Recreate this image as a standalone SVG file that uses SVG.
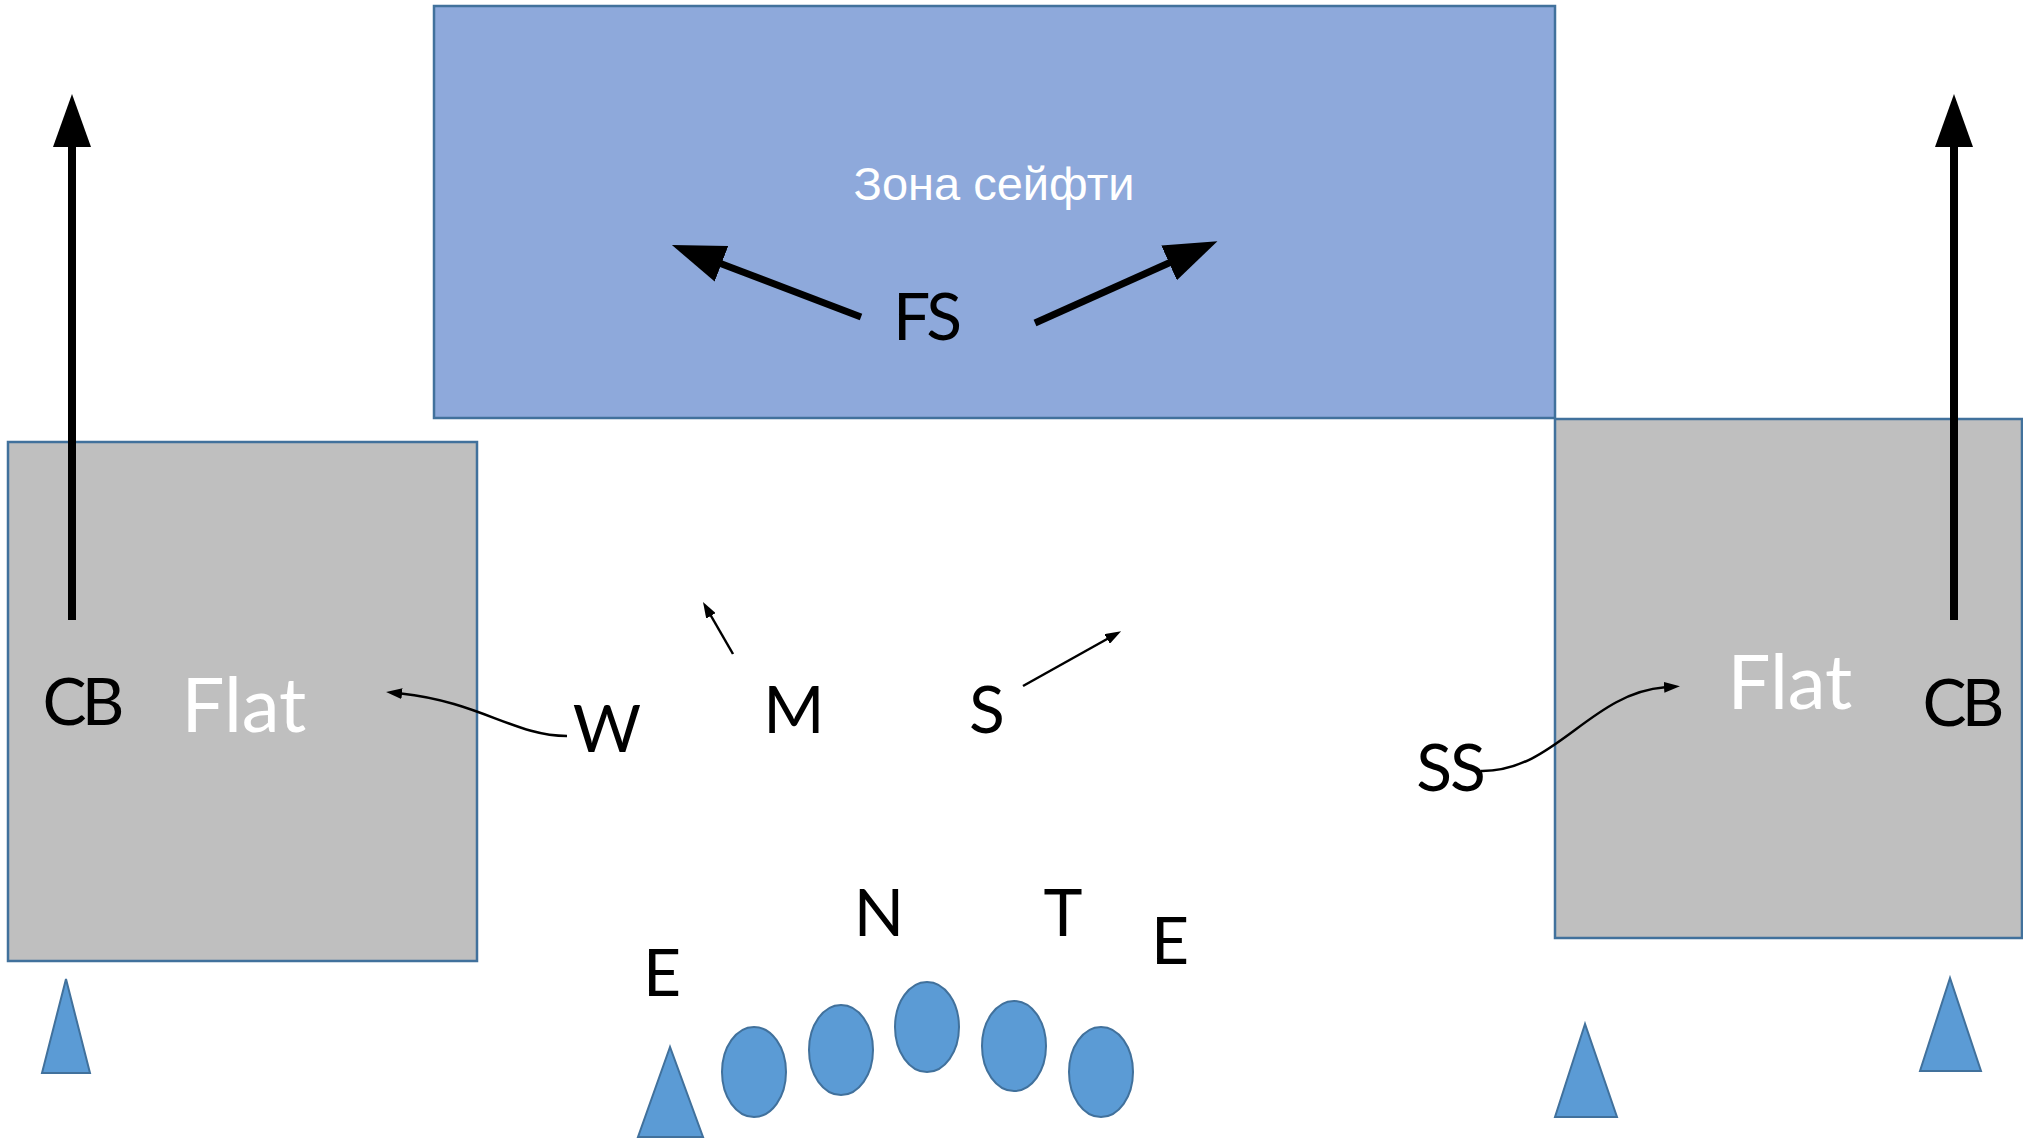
<svg xmlns="http://www.w3.org/2000/svg" width="2023" height="1138" viewBox="0 0 2023 1138">
<style>
.zone-blue{fill:#8EA9DB;stroke:#41719C;stroke-width:2.5}
.zone-gray{fill:#BFBFBF;stroke:#41719C;stroke-width:2.5}
.pl{fill:#5B9BD5;stroke:#41719C;stroke-width:2}
.lbl{font-family:Lato,"Open Sans","Noto Sans",sans-serif;font-size:66px;fill:#000;text-anchor:middle}
.flat{font-family:Lato,"Open Sans","Noto Sans",sans-serif;font-size:76px;fill:#fff;text-anchor:middle}
.zt{font-family:"Liberation Sans",Arial,sans-serif;font-size:47px;fill:#fff;text-anchor:middle}
.tight{letter-spacing:-5px}
.big{fill:none;stroke:#000;stroke-width:8}
.med{fill:none;stroke:#000;stroke-width:7}
.thin{fill:none;stroke:#000;stroke-width:2.5}
</style>
<defs>
<marker id="bigHead" markerUnits="userSpaceOnUse" markerWidth="53" markerHeight="38" viewBox="0 0 53 38" refX="1" refY="19" orient="auto">
<path d="M0,0 L53,19 L0,38 z" fill="#000"/>
</marker>
<marker id="smallHead" markerUnits="userSpaceOnUse" markerWidth="16" markerHeight="11" viewBox="0 0 16 11" refX="1" refY="5.5" orient="auto">
<path d="M0,0 L16,5.5 L0,11 z" fill="#000"/>
</marker>
</defs>

<g id="zone-safety">
<rect class="zone-blue" x="434" y="6" width="1121" height="412"/>
<text class="zt" x="994" y="200">Зона сейфти</text>
</g>
<g id="zone-flat-left">
<rect class="zone-gray" x="8" y="442" width="469" height="519"/>
<text class="flat" x="244" y="732">Flat</text>
</g>
<g id="zone-flat-right">
<rect class="zone-gray" x="1555" y="419" width="467" height="519"/>
<text class="flat" x="1790" y="709">Flat</text>
</g>

<g id="offense">
<polygon class="pl" points="66,979 42,1073 90,1073"/>
<polygon class="pl" points="670,1047 638,1137 703,1137"/>
<polygon class="pl" points="1585,1024 1555,1117 1617,1117"/>
<polygon class="pl" points="1950,978 1920,1071 1981,1071"/>
<ellipse class="pl" cx="754" cy="1072" rx="32" ry="45"/>
<ellipse class="pl" cx="841" cy="1050" rx="32" ry="45"/>
<ellipse class="pl" cx="927" cy="1027" rx="32" ry="45"/>
<ellipse class="pl" cx="1014" cy="1046" rx="32" ry="45"/>
<ellipse class="pl" cx="1101" cy="1072" rx="32" ry="45"/>
</g>

<g id="defense-labels">
<text id="cb-left" class="lbl tight" x="81" y="725">CB</text>
<text id="cb-right" class="lbl tight" x="1961" y="726">CB</text>
<text id="fs" class="lbl" x="926" y="340" letter-spacing="-3">FS</text>
<text id="w" class="lbl" x="607" y="752">W</text>
<text id="m" class="lbl" x="794" y="733">M</text>
<text id="s" class="lbl" x="987" y="733">S</text>
<text id="ss" class="lbl" x="1450" y="791" letter-spacing="-2">SS</text>
<text id="e-left" class="lbl" x="662" y="996">E</text>
<text id="n" class="lbl" x="879" y="936">N</text>
<text id="t" class="lbl" x="1063" y="936">T</text>
<text id="e-right" class="lbl" x="1170" y="964">E</text>
</g>

<g id="connectors">
<path class="big" d="M72,620 L72,146" marker-end="url(#bigHead)"/>
<path class="big" d="M1954,620 L1954,146" marker-end="url(#bigHead)"/>
<path class="med" d="M861,317 L720.5,263.5" marker-end="url(#bigHead)"/>
<path class="med" d="M1035,323 L1170,262.5" marker-end="url(#bigHead)"/>
<path class="thin" d="M733,654 L710.5,615" marker-end="url(#smallHead)"/>
<path class="thin" d="M1023,686 L1108,638.5" marker-end="url(#smallHead)"/>
<path class="thin" d="M567,736 C515,736 480,702 401,693.5" marker-end="url(#smallHead)"/>
<path class="thin" d="M1481,771 C1555,772 1590,693 1665,687.3" marker-end="url(#smallHead)"/>
</g>
</svg>
